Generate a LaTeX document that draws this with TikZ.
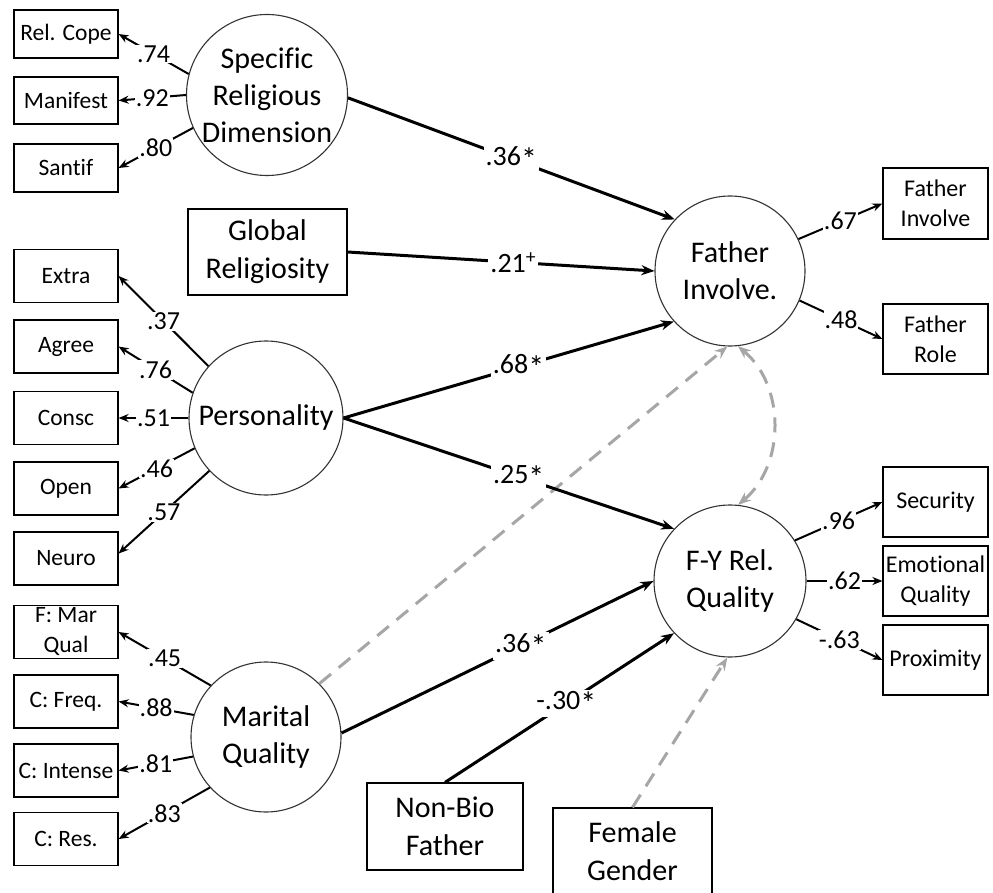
\documentclass[tikz,border=0pt]{standalone}
\usepackage{fontspec}
\setmainfont[Ligatures=NoCommon]{Carlito}
\usetikzlibrary{arrows.meta}
\newcommand{\sig}{\raisebox{-5pt}{\fontsize{32}{32}\selectfont *}}
\begin{document}
\begin{tikzpicture}[x=1pt,y=-1pt,
  latent/.style={circle,draw=black!80,line width=1.1pt,fill=white,inner sep=0pt,align=center,font=\fontsize{30}{37}\selectfont},
  bigbox/.style={draw,line width=1.2pt,fill=white,align=center,inner sep=0pt,font=\fontsize{30}{38}\selectfont},
  smallbox/.style={draw,line width=1.2pt,fill=white,align=center,inner sep=0pt,minimum width=104pt,minimum height=53pt,font=\fontsize{23.5}{30}\selectfont},
  rbox/.style={draw,line width=1.2pt,fill=white,align=center,inner sep=0pt,minimum width=105pt,minimum height=70pt,font=\fontsize{24}{30}\selectfont},
  loadarrow/.style={line width=2pt,-{Stealth[length=10pt,width=8pt]}},
  spath/.style={line width=3pt,-{Stealth[length=13pt,width=10pt]}},
  covarrow/.style={line width=3pt,draw=black!35,dash pattern=on 15pt off 10pt,-{Stealth[length=13pt,width=10pt]}},
  ll/.style={fill=white,inner sep=1pt,font=\fontsize{26}{26}\selectfont},
  pl/.style={fill=white,inner sep=2pt,font=\fontsize{28}{28}\selectfont}
]
\useasboundingbox (0,0) rectangle (993,893);
\clip (0,0) rectangle (993,893);

% latent variables
\node[latent,minimum size=156pt] (srd) at (267,95) {Specific\\Religious\\Dimension};
\node[latent,minimum size=150pt] (fi) at (730,271) {Father\\Involve.};
\node[latent,minimum size=152pt] (fy) at (730,581) {F-Y Rel.\\Quality};
\node[latent,minimum size=154pt] (pers) at (266,418) {Personality};
\node[latent,minimum size=150pt] (mq) at (266,737) {Marital\\Quality};

% left indicators
\node[smallbox,minimum height=48pt] (relcope) at (66,34) {Rel. Cope};
\node[smallbox,minimum height=47pt] (manifest) at (66,100.5) {Manifest};
\node[smallbox,minimum height=48pt] (santif) at (66,168) {Santif};
\node[smallbox] (extra) at (66,276) {Extra};
\node[smallbox] (agree) at (66,346.5) {Agree};
\node[smallbox] (consc) at (66,418) {Consc};
\node[smallbox] (open) at (66,488.5) {Open};
\node[smallbox] (neuro) at (66,558.5) {Neuro};
\node[smallbox] (fmar) at (66,632) {F: Mar\\Qual};
\node[smallbox] (cfreq) at (66,701.5) {C: Freq.};
\node[smallbox] (cint) at (66,770.5) {C: Intense};
\node[smallbox] (cres) at (66,839) {C: Res.};

% observed predictors
\node[bigbox,minimum width=159pt,minimum height=86pt] (gr) at (267.5,252) {Global\\Religiosity};
\node[bigbox,minimum width=156pt,minimum height=87pt] (nonbio) at (445,826.5) {Non-Bio\\Father};
\node[bigbox,minimum width=159pt,minimum height=86pt] (fem) at (632.5,851) {Female\\Gender};

% right indicators
\node[rbox,minimum height=71pt] (finv) at (935.5,203.5) {Father\\Involve};
\node[rbox] (frole) at (935.5,339) {Father\\Role};
\node[rbox] (sec) at (935.5,502) {Security};
\node[rbox] (emo) at (935.5,581) {Emotional\\Quality};
\node[rbox] (prox) at (935.5,660) {Proximity};

% dashed (non-significant) paths
\draw[covarrow] (mq.45) -- (fi.268);
\draw[covarrow] (fem.north) -- (fy.268);
\draw[covarrow,{Stealth[length=13pt,width=10pt]}-{Stealth[length=13pt,width=10pt]}] (fi.-84) to[out=-40,in=40] (fy.84);

% structural paths
\draw[spath] (srd.-2) -- node[pl]{.36\sig} (fi.137);
\draw[spath] (gr.east) -- node[pl,pos=0.54]{.21\textsuperscript{+}} (fi.west);
\draw[spath] (pers.east) -- node[pl,pos=0.53]{.68\sig} (fi.222);
\draw[spath] (pers.east) -- node[pl,pos=0.53]{.25\sig} (fy.137);
\draw[spath] (mq.3) -- node[pl,pos=0.575]{.36\sig} (fy.west);
\draw[spath] (nonbio.north) -- node[pl,pos=0.53]{-.30\sig} (fy.223);

% loadings left
\draw[loadarrow] (srd.165) -- node[ll]{.74} (relcope.east);
\draw[loadarrow] (srd.180) -- node[ll]{.92} (manifest.east);
\draw[loadarrow] (srd.204) -- node[ll]{.80} (santif.east);
\draw[loadarrow] (pers.138) -- node[ll]{.37} (extra.east);
\draw[loadarrow] (pers.161) -- node[ll]{.76} (agree.east);
\draw[loadarrow] (pers.180) -- node[ll]{.51} (consc.east);
\draw[loadarrow] (pers.203) -- node[ll]{.46} (open.east);
\draw[loadarrow] (pers.223) -- node[ll]{.57} ([yshift=5pt]neuro.east);
\draw[loadarrow] (mq.137) -- node[ll]{.45} (fmar.east);
\draw[loadarrow] (mq.163) -- node[ll]{.88} (cfreq.east);
\draw[loadarrow] (mq.195) -- node[ll]{.81} (cint.east);
\draw[loadarrow] (mq.222) -- node[ll]{.83} (cres.east);

% loadings right
\draw[loadarrow] (fi.25) -- node[ll]{.67} (finv.west);
\draw[loadarrow] (fi.-23) -- node[ll]{.48} (frole.west);
\draw[loadarrow] (fy.32) -- node[ll]{.96} (sec.west);
\draw[loadarrow] (fy.0) -- node[ll]{.62} (emo.west);
\draw[loadarrow] (fy.-30) -- node[ll]{-.63} (prox.west);
\end{tikzpicture}
\end{document}
